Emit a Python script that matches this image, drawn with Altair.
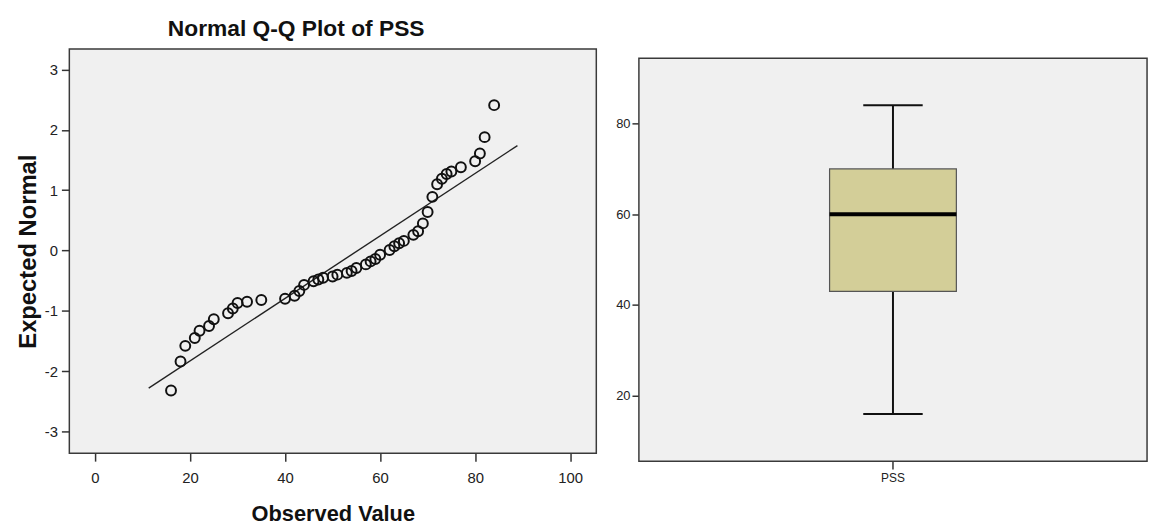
import altair as alt
import pandas as pd

# ---- Q-Q plot data (observed PSS value, expected normal z) ----
obs = [16, 18, 19, 21, 22, 24, 25, 28, 29, 30, 32, 35, 40, 42, 43, 44, 46, 47,
       48, 50, 51, 53, 54, 55, 57, 58, 59, 60, 62, 63, 64, 65, 67, 68, 69, 70,
       71, 72, 73, 74, 75, 77, 80, 81, 82, 84]
zexp = [-2.32, -1.84, -1.58, -1.45, -1.33, -1.25, -1.14, -1.04, -0.96, -0.87,
        -0.85, -0.82, -0.80, -0.75, -0.67, -0.57, -0.51, -0.48, -0.45, -0.43,
        -0.40, -0.37, -0.34, -0.29, -0.23, -0.18, -0.14, -0.07, 0.01, 0.07,
        0.12, 0.16, 0.26, 0.32, 0.45, 0.64, 0.89, 1.10, 1.19, 1.27, 1.31,
        1.38, 1.48, 1.61, 1.88, 2.41]

# reference line end points
line_x = [11.3, 88.9]
line_z = [-2.28, 1.74]

# ---- Boxplot summary ----
box_cat = ["PSS"]
box_min = [16]
box_q1 = [43]
box_med = [60]
box_q3 = [70]
box_max = [84]
# frame of the box-plot panel (value range shown)
frame_lo = [5.6]
frame_hi = [94.4]

qq = pd.DataFrame({"obs": obs, "z": zexp})
ln = pd.DataFrame({"obs": line_x, "z": line_z})
bx = pd.DataFrame({"cat": box_cat, "lo": box_min, "q1": box_q1,
                   "med": box_med, "q3": box_q3, "hi": box_max,
                   "flo": frame_lo, "fhi": frame_hi})

FONT = "Liberation Sans, Arial"

xs = alt.Scale(domain=[-5.4, 105.5], nice=False, zero=False)
ys = alt.Scale(domain=[-3.36, 3.34], nice=False, zero=False)

xax = alt.Axis(values=[0, 20, 40, 60, 80, 100], title="Observed Value",
               titleFontSize=22, titleFontWeight="bold", titleFont=FONT,
               labelFontSize=15, labelFont=FONT, labelColor="#222",
               tickSize=8, labelPadding=10, titlePadding=18, grid=False,
               domain=False, tickColor="#333", tickWidth=1.5,
               titleColor="#111")
yax = alt.Axis(values=[-3, -2, -1, 0, 1, 2, 3], title="Expected Normal",
               labelExpr="'' + datum.value",
               titleFontSize=24, titleFontWeight="bold", titleFont=FONT,
               labelFontSize=15, labelFont=FONT, labelColor="#222",
               tickSize=8, labelPadding=4, titlePadding=4, grid=False,
               domain=False, tickColor="#333", tickWidth=1.5,
               titleColor="#111")

line = alt.Chart(ln).mark_line(color="#222", strokeWidth=1.4).encode(
    x=alt.X("obs:Q", scale=xs, axis=xax),
    y=alt.Y("z:Q", scale=ys, axis=yax),
)
pts = alt.Chart(qq).mark_point(shape="circle", filled=False, color="#111",
                               size=100, strokeWidth=2, opacity=1).encode(
    x=alt.X("obs:Q", scale=xs, axis=xax),
    y=alt.Y("z:Q", scale=ys, axis=yax),
)

left = alt.layer(line, pts).properties(
    width=532, height=408,
    title=alt.TitleParams("Normal Q-Q Plot of PSS", fontSize=23, font=FONT,
                          fontWeight="bold", color="#111", anchor="middle",
                          offset=8, dx=-37),
    view=alt.ViewBackground(stroke="#3a3a3a", strokeWidth=1.5, fill="#f0f0f0"),
)

bys = alt.Scale(domain=[5.6, 96.4], nice=False, zero=False)
byax = alt.Axis(values=[20, 40, 60, 80], title=None, labelFontSize=13,
                labelFont=FONT, labelColor="#222",
                tickSize=7, labelPadding=2, grid=False, domain=False,
                tickColor="#333", tickWidth=1.5)
bxax = alt.Axis(title=None, labelAngle=0, labelFontSize=12,
                labelFont=FONT, labelColor="#222",
                tickSize=8, labelPadding=4, domain=False, tickColor="#333",
                tickWidth=1.5)
bxs = alt.Scale(domain=box_cat, paddingInner=0, paddingOuter=0)

base = alt.Chart(bx)
frame = base.mark_rect(fill="#f0f0f0", stroke="#3a3a3a", strokeWidth=1.5).encode(
    x=alt.X("cat:N", scale=bxs, axis=bxax),
    y=alt.Y("flo:Q", scale=bys, axis=byax), y2="fhi:Q")
whisk = base.mark_rule(color="#111", strokeWidth=2).encode(
    x=alt.X("cat:N", scale=bxs, axis=bxax),
    y=alt.Y("lo:Q", scale=bys, axis=byax), y2="hi:Q")
box = base.mark_bar(size=128, fill="#d3ce98", stroke="#555",
                    strokeWidth=1.2).encode(
    x=alt.X("cat:N", scale=bxs, axis=bxax),
    y=alt.Y("q1:Q", scale=bys, axis=byax), y2="q3:Q")
med = base.mark_tick(size=128, thickness=4, color="#000", opacity=1).encode(
    x=alt.X("cat:N", scale=bxs, axis=bxax),
    y=alt.Y("med:Q", scale=bys, axis=byax))
cap_lo = base.mark_tick(size=60, thickness=2, color="#111", opacity=1).encode(
    x=alt.X("cat:N", scale=bxs, axis=bxax),
    y=alt.Y("lo:Q", scale=bys, axis=byax))
cap_hi = base.mark_tick(size=60, thickness=2, color="#111", opacity=1).encode(
    x=alt.X("cat:N", scale=bxs, axis=bxax),
    y=alt.Y("hi:Q", scale=bys, axis=byax))

right = alt.layer(frame, whisk, box, med, cap_lo, cap_hi).properties(
    width=513, height=416,
    view=alt.ViewBackground(stroke=None, fill=None),
)

chart = alt.hconcat(left, right, spacing=18).properties(
    padding={"left": 15, "top": 15, "right": 4, "bottom": 4},
    background="white",
)

chart.save("out.html", embed_options={"renderer": "svg", "actions": False})
